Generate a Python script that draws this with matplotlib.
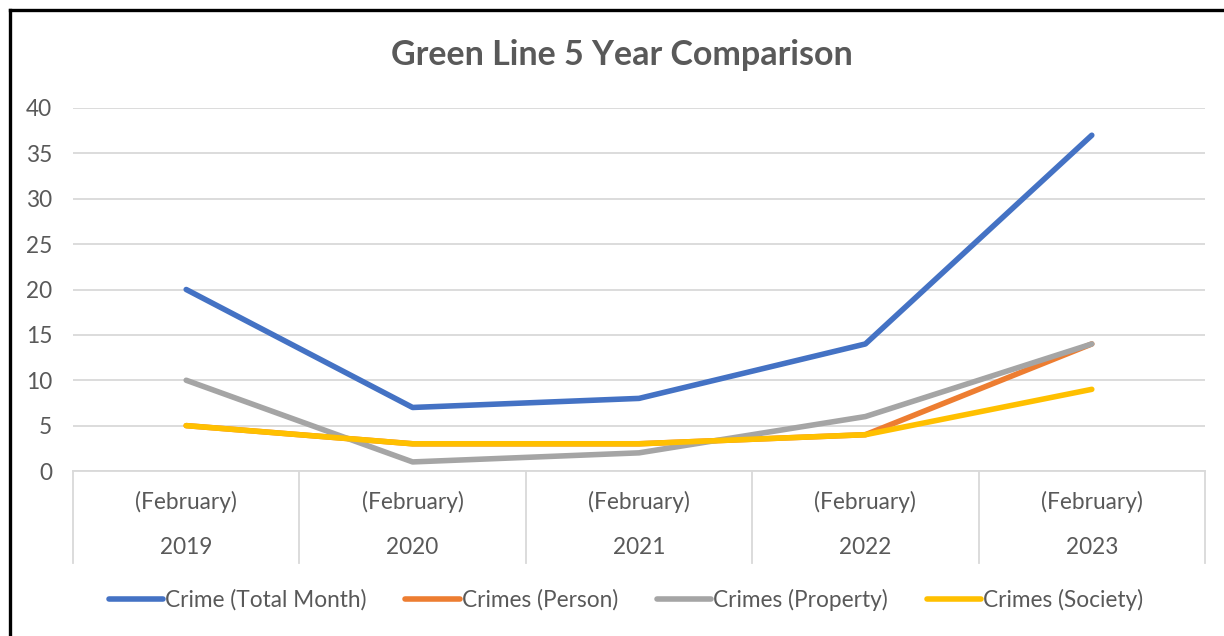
import matplotlib
matplotlib.use("Agg")
import matplotlib.pyplot as plt
from matplotlib.lines import Line2D
import matplotlib.transforms as mtransforms

years = ["2019", "2020", "2021", "2022", "2023"]
month_label = "(February)"
series_names = ["Crime (Total Month)", "Crimes (Person)", "Crimes (Property)", "Crimes (Society)"]
total_month = [20, 7, 8, 14, 37]
person = [5, 3, 3, 4, 14]
property_ = [10, 1, 2, 6, 14]
society = [5, 3, 3, 4, 9]
colors = ["#4472C4", "#ED7D31", "#A5A5A5", "#FFC000"]
title = "Green Line 5 Year Comparison"

plt.rcParams['font.family'] = ['Lato', 'DejaVu Sans']
W, H = 1224, 636
fig = plt.figure(figsize=(W / 100, H / 100), dpi=100)
fig.patch.set_facecolor("white")

left, right, top, bottom = 73, 1205, 108, 471
ax = fig.add_axes([left / W, 1 - bottom / H, (right - left) / W, (bottom - top) / H])

x = list(range(len(years)))
for vals, name, c in zip([total_month, person, property_, society], series_names, colors):
    ax.plot(x, vals, color=c, lw=4.0, label=name, solid_capstyle="round", solid_joinstyle="round")

FS = 16.3
ax.set_xlim(-0.5, len(years) - 0.5)
ax.set_ylim(0, 40)
ax.set_yticks(range(0, 41, 5))
ax.grid(axis="y", color="#D9D9D9", lw=1.3)
ax.set_axisbelow(True)
for s in ["top", "right", "left"]:
    ax.spines[s].set_visible(False)
ax.spines["bottom"].set_color("#D9D9D9")
ax.spines["bottom"].set_linewidth(1.3)
ax.tick_params(axis="y", length=0, labelsize=FS, labelcolor="#595959", pad=15)
ax.set_xticks([])

# category axis boxes
trans = mtransforms.blended_transform_factory(ax.transData, ax.transAxes)
depth = (563 - 471) / (bottom - top)
for b in [i - 0.5 for i in range(len(years) + 1)]:
    ax.add_line(Line2D([b, b], [0, -depth], transform=trans, color="#D9D9D9", lw=1.3, clip_on=False))
for i, yr in enumerate(years):
    ax.text(i, -(502 - 471) / (bottom - top), month_label, transform=trans, ha="center", va="center",
            fontsize=FS, color="#595959")
    ax.text(i, -(548 - 471) / (bottom - top), yr, transform=trans, ha="center", va="center",
            fontsize=FS, color="#595959")

fig.text(622 / W, 1 - 55 / H, title, ha="center", va="center", fontsize=24.5, fontweight="bold", color="#595959")

leg = fig.legend(loc="center", bbox_to_anchor=(626 / W, 1 - 600 / H), ncol=4, frameon=False,
                 fontsize=FS, handlelength=2.4, handletextpad=0.1, columnspacing=1.7)
for t in leg.get_texts():
    t.set_color("#595959")

# screenshot border (left & top)
fig.add_artist(Line2D([9.5 / W, 9.5 / W], [0, 1 - 9.5 / H], transform=fig.transFigure, color="black", lw=2.4))
fig.add_artist(Line2D([9.5 / W, 1], [1 - 9.5 / H, 1 - 9.5 / H], transform=fig.transFigure, color="black", lw=2.4))

fig.savefig("out.png", dpi=100, facecolor="white")
